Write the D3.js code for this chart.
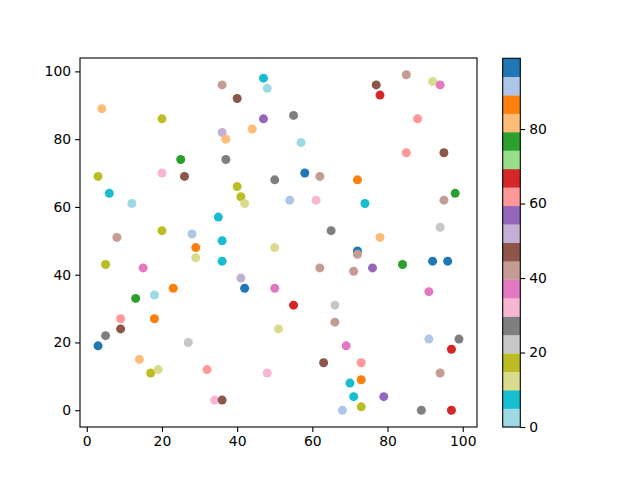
<!DOCTYPE html>
<html>
<head>
<meta charset="utf-8">
<script src="https://cdn.jsdelivr.net/npm/d3@7"></script>
<style>
  body { margin: 0; background: #fff; }
  svg { font-family: "DejaVu Sans", sans-serif; }
</style>
</head>
<body>
<svg width="640" height="480"></svg>
<script>
// scatter data (x, y, colour value)
const xs = [4, 20, 25, 3, 20, 26, 36, 47, 48, 40, 47, 55, 36, 44, 37, 57, 37, 50, 58, 62,
            85, 77, 78, 92, 94, 88, 85, 95, 72, 6, 12, 20, 28, 8, 29, 29, 5, 15, 23, 13,
            18, 40, 41, 42, 54, 61, 35, 36, 36, 65, 50, 62, 41, 42, 50, 98, 95, 74, 94, 78,
            72, 72, 71, 76, 84, 92, 96, 91, 9, 18, 5, 9, 3, 27, 14, 17, 19, 32, 55, 66,
            66, 51, 63, 48, 34, 36, 68, 69, 73, 70, 73, 71, 79, 73, 89, 97, 91, 99, 97, 94];
const ys = [89, 86, 74, 69, 70, 69, 96, 98, 95, 92, 86, 87, 82, 83, 80, 79, 74, 68, 70, 69,
            99, 96, 93, 97, 96, 86, 76, 76, 68, 64, 61, 53, 52, 51, 48, 45, 43, 42, 36, 33,
            34, 66, 63, 61, 62, 62, 57, 50, 44, 53, 48, 42, 39, 36, 36, 64, 62, 61, 54, 51,
            47, 46, 41, 42, 43, 44, 44, 35, 27, 27, 22, 24, 19, 20, 15, 11, 12, 12, 31, 31,
            26, 24, 14, 11, 3, 3, 0, 19, 14, 8, 9, 4, 4, 1, 0, 0, 21, 21, 18, 11];
const cs = [82, 17, 77, 18, 32, 47, 42, 7, 0, 47, 57, 27, 52, 82, 82, 2, 27, 27, 97, 42,
            42, 47, 67, 12, 37, 62, 62, 47, 87, 7, 2, 17, 92, 42, 87, 12, 17, 37, 87, 77,
            2, 17, 17, 12, 92, 32, 7, 7, 7, 27, 12, 42, 52, 99, 37, 77, 42, 7, 22, 82,
            97, 42, 42, 57, 77, 97, 97, 37, 62, 87, 27, 47, 97, 22, 82, 17, 12, 62, 67, 22,
            42, 12, 47, 32, 32, 47, 92, 37, 62, 7, 87, 7, 57, 17, 27, 67, 92, 27, 67, 42];

const xTicks = [0, 20, 40, 60, 80, 100];
const yTicks = [0, 20, 40, 60, 80, 100];
const cTicks = [0, 20, 40, 60, 80];

// tab20 reversed
const tab20r = ['#1f77b4', '#aec7e8', '#ff7f0e', '#ffbb78', '#2ca02c', '#98df8a',
                '#d62728', '#ff9896', '#9467bd', '#c5b0d5', '#8c564b', '#c49c94',
                '#e377c2', '#f7b6d2', '#7f7f7f', '#c7c7c7', '#bcbd22', '#dbdb8d',
                '#17becf', '#9edae5'].reverse();

const svg = d3.select('svg');
const axLeft = 80, axRight = 477, axTop = 58, axBottom = 427;

const xScale = d3.scaleLinear().domain([-1.8, 103.8]).range([axLeft, axRight]);
const yScale = d3.scaleLinear().domain([-4.95, 103.95]).range([axBottom, axTop]);
const cExtent = d3.extent(cs);
const color = d3.scaleQuantize().domain(cExtent).range(tab20r);

const points = xs.map((x, i) => ({x: x, y: ys[i], c: cs[i]}));

svg.append('g')
    .selectAll('circle')
    .data(points)
    .enter()
    .append('circle')
    .attr('cx', d => xScale(d.x))
    .attr('cy', d => yScale(d.y))
    .attr('r', 4.5)
    .attr('fill', d => color(d.c));

// axes
const xAxis = svg.append('g')
    .attr('transform', `translate(0,${axBottom})`)
    .call(d3.axisBottom(xScale).tickValues(xTicks).tickSize(4.9).tickPadding(4));
const yAxis = svg.append('g')
    .attr('transform', `translate(${axLeft},0)`)
    .call(d3.axisLeft(yScale).tickValues(yTicks).tickSize(4.9).tickPadding(4));

[xAxis, yAxis].forEach(a => {
  a.select('.domain').remove();
  a.selectAll('line').attr('stroke', '#000').attr('stroke-width', 1.1);
  a.selectAll('text').attr('font-size', 13.9).attr('fill', '#000')
      .attr('font-family', '"DejaVu Sans", sans-serif');
});

svg.append('rect')
    .attr('x', axLeft).attr('y', axTop)
    .attr('width', axRight - axLeft).attr('height', axBottom - axTop)
    .attr('fill', 'none').attr('stroke', '#000').attr('stroke-width', 1.1);

// colorbar
const cbLeft = 502.7, cbWidth = 17.6;
const cScale = d3.scaleLinear().domain(cExtent).range([axBottom, axTop + 0.3]);
const bins = tab20r.map(col => {
  const ex = color.invertExtent(col);
  return {col: col, lo: ex[0], hi: ex[1]};
});

svg.append('g')
    .selectAll('rect')
    .data(bins)
    .enter()
    .append('rect')
    .attr('x', cbLeft)
    .attr('width', cbWidth)
    .attr('y', d => cScale(d.hi))
    .attr('height', d => cScale(d.lo) - cScale(d.hi) + 0.3)
    .attr('fill', d => d.col);

svg.append('rect')
    .attr('x', cbLeft).attr('y', cScale(cExtent[1]))
    .attr('width', cbWidth).attr('height', cScale(cExtent[0]) - cScale(cExtent[1]))
    .attr('fill', 'none').attr('stroke', '#000').attr('stroke-width', 1.1);

const cAxis = svg.append('g')
    .attr('transform', `translate(${cbLeft + cbWidth},0)`)
    .call(d3.axisRight(cScale).tickValues(cTicks).tickSize(4.9).tickPadding(4));
cAxis.select('.domain').remove();
cAxis.selectAll('line').attr('stroke', '#000').attr('stroke-width', 1.1);
cAxis.selectAll('text').attr('font-size', 13.9).attr('fill', '#000')
    .attr('font-family', '"DejaVu Sans", sans-serif');
</script>
</body>
</html>
